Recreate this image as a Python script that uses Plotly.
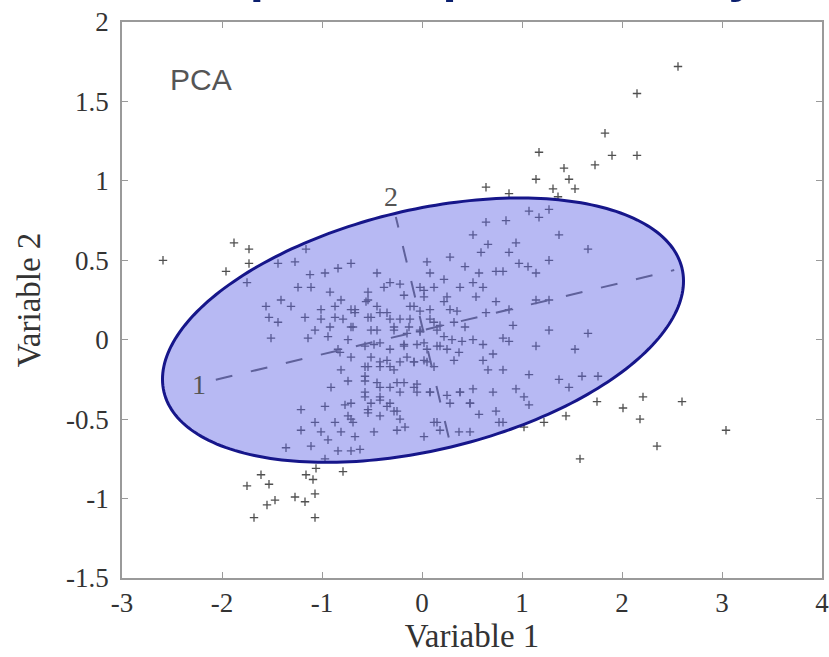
import numpy as np
import plotly.graph_objects as go

# ---------------- data ----------------
x_vals = [
    # outside, upper right
    2.56, 2.15, 1.83, 1.90, 2.15, 1.73, 1.42, 1.47, 1.53, 1.31, 1.36, 1.17, 1.14, 0.64, 0.87,
    # outside, right / lower right
    2.21, 2.01, 2.18, 2.60, 3.04, 2.35, 1.75, 1.44, 1.58, 1.22, 1.02,
    # outside, left
    -2.59, -1.88, -1.73, -1.96, -1.73, -1.75,
    # outside, lower left
    -1.61, -1.75, -1.53, -1.47, -1.55, -1.68, -1.27, -1.17, -1.07, -1.16, -1.09, -1.07, -0.79, -1.06, -0.97,
    # inside, left half
    -1.16, -1.44, -1.27, -0.84, -0.71, -1.12, -0.97, -1.24, -1.11, -0.92, -0.81, -1.56, -1.41, -1.31,
    -1.01, -0.87, -0.71, -0.54, -0.42, -0.38, -0.22, 0.02, -0.12, 0.08, -1.53, -1.44, -1.17, -1.01,
    -0.87, -0.67, -0.54, -0.32, -0.12, 0.12, -1.07, -0.92, -0.71, -0.45, -0.28, -0.02, -1.51, -1.14,
    -0.94, -0.74, -0.57, -0.42, -0.18, 0.02, 0.18, -0.84, -0.51, -0.35, -0.15, 0.02, 0.12, -0.81,
    -0.57, -0.42, -0.28, -0.08, -0.91, -0.74, -0.57, -0.42, -0.25, -0.08, -0.57, -0.42, -0.22, -0.05,
    0.08, -0.71, -0.51, -0.35, -0.28, -1.21, -0.97, -0.74, -0.54, -0.42, -0.22, -1.07, -0.87, -0.71,
    -1.21, -1.01, -0.94, -0.81, -0.67, -0.48, -0.25, 0.02, 0.18, -1.36, -1.11, -0.84, -0.71, -0.62,
    0.12, 0.37, 0.48, 0.28, 0.48, 0.38,
    # inside, centre
    0.51, 0.66, 0.94, 0.87, 0.59, 0.05, 0.28, -0.45, 0.08, 0.43, 0.57, 0.74, 0.81, 0.97, 1.06, 1.14,
    1.27, -0.32, -0.02, 0.12, 0.22, 0.38, 0.51, 0.61, -0.54, -0.18, 0.02, 0.25, 0.54, 0.74, 1.14, 1.27,
    -0.56, -0.67, -0.45, -0.35, -0.08, -0.02, 0.22, 0.28, 0.35, 0.64, 0.87, -0.79, -0.69, -0.51, -0.22,
    -0.13, 0.08, 0.18, 0.32, 0.43, 0.91, 1.27, -0.51, -0.28, -0.15, -0.02, 0.15, 0.22, 0.30, 0.40,
    0.51, 0.61, 0.81, 0.87, -0.48, -0.32, -0.18, -0.05, 0.05, 0.15, 0.25, 0.37, 1.14, -0.82, -0.71,
    -0.54, -0.42, -0.32, -0.22, -0.08, 0.05, 0.32, 0.61, 0.71, 0.66, 0.81, 1.07, -0.57, -0.45, -0.32,
    -0.18, -0.05, 0.08, 0.25, 0.38, 0.51, 0.71, 0.94, 1.02, 1.07, -0.57, -0.42, -0.32, -0.77, -0.54,
    -0.25, 0.15, 0.48, 0.57, 0.74, 0.81, -0.69,
    # inside, right half
    1.07, 1.17, 1.27, 0.64, 0.84, 1.37, 1.66, 1.53, 1.66, 1.60, 1.76, 1.47, 1.37, 0.77, -0.17,
]
y_vals = [
    1.72, 1.55, 1.30, 1.16, 1.16, 1.10, 1.08, 1.01, 0.95, 0.95, 0.90, 1.18, 1.01, 0.96, 0.92,
    -0.36, -0.43, -0.50, -0.39, -0.57, -0.67, -0.39, -0.48, -0.75, -0.52, -0.55,
    0.50, 0.61, 0.57, 0.43, 0.48, 0.36,
    -0.85, -0.92, -0.91, -1.01, -1.04, -1.12, -0.99, -1.02, -0.97, -0.85, -0.88, -1.12, -0.83, -0.81, -0.75,
    0.57, 0.48, 0.49, 0.45, 0.48, 0.41, 0.42, 0.33, 0.33, 0.30, 0.25, 0.21, 0.25, 0.21,
    0.19, 0.21, 0.19, 0.25, 0.17, 0.33, 0.35, 0.31, 0.21, 0.19, 0.14, 0.11, 0.14, 0.13,
    0.14, 0.17, 0.14, 0.13, 0.13, 0.11, 0.06, 0.08, 0.08, 0.06, 0.08, 0.06, 0.01, 0.01,
    0.02, 0.00, -0.04, -0.02, -0.04, -0.02, -0.04, -0.06, -0.11, -0.13, -0.11, -0.13, -0.17, -0.19,
    -0.17, -0.17, -0.19, -0.14, -0.30, -0.26, -0.26, -0.30, -0.27, -0.30, -0.33, -0.38, -0.33, -0.33,
    -0.33, -0.40, -0.40, -0.42, -0.45, -0.44, -0.42, -0.48, -0.46, -0.48, -0.50, -0.52, -0.52, -0.50,
    -0.57, -0.58, -0.63, -0.58, -0.61, -0.58, -0.57, -0.61, -0.57, -0.68, -0.67, -0.70, -0.70, -0.69,
    -0.52, -0.58, -0.58, -0.40, -0.40, -0.33,
    0.66, 0.60, 0.61, 0.55, 0.55, 0.49, 0.52, 0.42, 0.42, 0.46, 0.42, 0.43, 0.43, 0.48, 0.46, 0.42,
    0.50, 0.36, 0.33, 0.33, 0.38, 0.33, 0.36, 0.33, 0.30, 0.28, 0.27, 0.27, 0.27, 0.24, 0.25, 0.25,
    0.24, 0.19, 0.21, 0.17, 0.21, 0.18, 0.24, 0.19, 0.18, 0.17, 0.19, 0.13, 0.08, 0.14, 0.13,
    0.08, 0.13, 0.09, 0.11, 0.08, 0.09, 0.06, 0.06, 0.06, 0.04, 0.05, 0.06, 0.02, 0.00, -0.01,
    0.00, -0.03, 0.01, -0.01, -0.03, -0.06, -0.03, -0.03, -0.06, -0.04, -0.06, -0.08, -0.04, -0.08, -0.11,
    -0.17, -0.14, -0.17, -0.14, -0.14, -0.14, -0.13, -0.13, -0.09, -0.19, -0.19, -0.22, -0.23, -0.27, -0.30,
    -0.27, -0.28, -0.33, -0.35, -0.33, -0.31, -0.33, -0.31, -0.36, -0.41, -0.36, -0.36, -0.40, -0.41, -0.44,
    -0.45, -0.52, -0.40, -0.47, -0.45, -0.52, -0.52,
    0.81, 0.77, 0.82, 0.74, 0.75, 0.66, 0.57, -0.06, 0.04, -0.23, -0.23, -0.30, -0.25, -0.52, -0.55,
]

# PCA summary (data units): centre, principal semi-axis vectors, drawn extents of the axes
pca_center = [0.01, 0.06]
pc1_vector = [2.59, 0.39]
pc2_vector = [-0.28, 0.735]
pc1_extent = [-0.80, 0.97]
pc2_extent = [-0.92, 0.97]
pc_labels = ["1", "2"]
pc_label_pos = [(-2.23, -0.28), (-0.31, 0.90)]

x_ticks = [-3, -2, -1, 0, 1, 2, 3, 4]
x_ticktext = ["-3", "-2", "-1", "0", "1", "2", "3", "4"]
y_ticks = [-1.5, -1, -0.5, 0, 0.5, 1, 1.5, 2]
y_ticktext = ["-1.5", "-1", "-0.5", "0", "0.5", "1", "1.5", "2"]

title_text = "Principal component analysis"

# ---------------- figure ----------------
fig = go.Figure()

fig.add_trace(go.Scatter(
    x=x_vals, y=y_vals, mode="markers",
    marker=dict(symbol="cross-thin", size=6, line=dict(width=1.3, color="#505050")),
    hoverinfo="x+y", showlegend=False,
))

# ellipse outline from the principal axes
t = np.linspace(0, 2 * np.pi, 241)
cx, cy = pca_center
ex = cx + np.cos(t) * pc1_vector[0] + np.sin(t) * pc2_vector[0]
ey = cy + np.cos(t) * pc1_vector[1] + np.sin(t) * pc2_vector[1]
path = "M " + " L ".join(f"{a:.4f},{b:.4f}" for a, b in zip(ex, ey)) + " Z"
fig.add_shape(type="path", path=path, xref="x", yref="y", layer="above",
              fillcolor="rgba(95,100,228,0.45)", line=dict(color="#16168a", width=3))

# principal axes (dashed)
for vec, ext in [(pc1_vector, pc1_extent), (pc2_vector, pc2_extent)]:
    fig.add_trace(go.Scatter(
        x=[cx + ext[0] * vec[0], cx + ext[1] * vec[0]],
        y=[cy + ext[0] * vec[1], cy + ext[1] * vec[1]],
        mode="lines", line=dict(color="#5f5f5f", width=2, dash="17px,19px"),
        hoverinfo="skip", showlegend=False,
    ))

for lab, (lx, ly) in zip(pc_labels, pc_label_pos):
    fig.add_annotation(x=lx, y=ly, text=lab, showarrow=False,
                       font=dict(family="Liberation Serif", size=28, color="#555555"))

fig.add_annotation(x=-2.21, y=1.64, text="PCA", showarrow=False,
                   font=dict(family="Liberation Sans", size=30, color="#555555"))

# slide title, cropped by the top edge as in the original picture
fig.add_annotation(xref="paper", yref="paper", x=0.494, y=1.033,
                   xanchor="center", yanchor="bottom", text=title_text, showarrow=False,
                   font=dict(family="Liberation Sans", size=51, color="#0b1f6e", weight="bold"))

axis_common = dict(
    showgrid=False, zeroline=False, showline=True, linecolor="#9a9a9a", linewidth=1.5,
    mirror="ticks", ticks="inside", ticklen=6, tickcolor="#9a9a9a", tickwidth=1,
    ticklabeloverflow="allow",
    tickfont=dict(family="Liberation Serif", size=27, color="#333333"),
)

fig.update_layout(
    width=829, height=657,
    margin=dict(l=122, r=0, t=22, b=79),
    paper_bgcolor="white", plot_bgcolor="white",
    xaxis=dict(range=[-3, 4], tickvals=x_ticks, ticktext=x_ticktext,
               title=dict(text="Variable 1", standoff=2,
                          font=dict(family="Liberation Serif", size=33, color="#333333")),
               **axis_common),
    yaxis=dict(range=[-1.5, 2], tickvals=y_ticks, ticktext=y_ticktext,
               title=dict(text="Variable 2", standoff=16,
                          font=dict(family="Liberation Serif", size=33, color="#333333")),
               ticklabelstandoff=6,
               **axis_common),
)

fig.write_html("out.html")
